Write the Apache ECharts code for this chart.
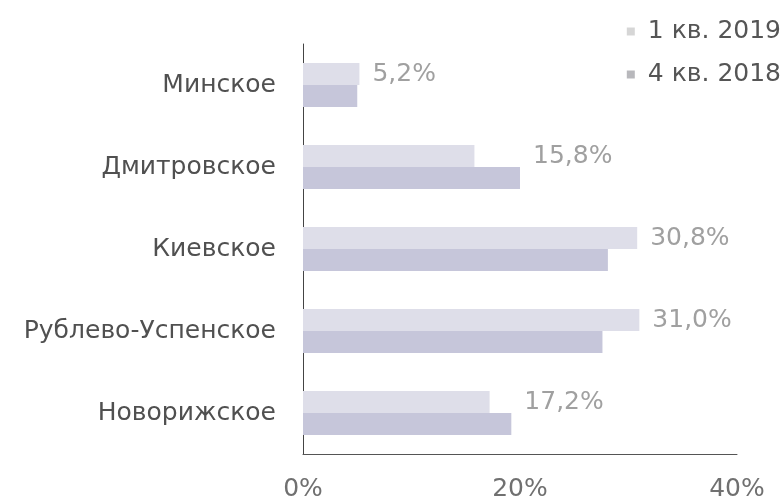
<!DOCTYPE html>
<html>
<head>
<meta charset="utf-8">
<script src="https://cdn.jsdelivr.net/npm/echarts@6/dist/echarts.min.js"></script>
<style>
  html, body { margin: 0; padding: 0; background: #ffffff; }
  #chart { width: 783px; height: 497px; }
</style>
</head>
<body>
<div id="chart"></div>
<script>
// Доля вакантных площадей по направлениям, %
const categories = ['Минское', 'Дмитровское', 'Киевское', 'Рублево-Успенское', 'Новорижское'];
const q1_2019 = [5.2, 15.8, 30.8, 31.0, 17.2];
const q4_2018 = [5.0, 20.0, 28.1, 27.6, 19.2];
const seriesNames = ['1 кв. 2019', '4 кв. 2018'];
const xTicks = [0, 20, 40];

const FONT = 'DejaVu Sans';
const colorQ1 = '#dedee9';
const colorQ4 = '#c6c6da';

// transparent extension so the value label sits past the longer bar of each pair
const labelPad = q1_2019.map((v, i) => Math.max(q4_2018[i] - v, 0));

const chart = echarts.init(document.getElementById('chart'), null, { renderer: 'canvas' });

chart.setOption({
  animation: false,
  backgroundColor: '#ffffff',
  textStyle: { fontFamily: FONT },
  legend: {
    orient: 'vertical',
    right: -3,
    top: 14,
    itemWidth: 8,
    itemHeight: 8,
    itemGap: 18,
    icon: 'rect',
    selectedMode: false,
    textStyle: { fontFamily: FONT, fontSize: 25, color: '#555555', padding: [0, 0, 0, 8] },
    data: [
      { name: seriesNames[0], itemStyle: { color: '#d6d6d6' } },
      { name: seriesNames[1], itemStyle: { color: '#b8b8bc' } }
    ]
  },
  grid: { left: 303, right: 46, top: 44, bottom: 43, containLabel: false, outerBoundsMode: 'none' },
  xAxis: {
    type: 'value',
    min: xTicks[0],
    max: xTicks[xTicks.length - 1],
    interval: xTicks[1] - xTicks[0],
    axisLine: { show: true, lineStyle: { color: '#555555', width: 1 } },
    axisTick: { show: false },
    splitLine: { show: false },
    axisLabel: {
      margin: 23,
      fontFamily: FONT,
      fontSize: 25,
      color: '#707070',
      formatter: v => v + '%'
    }
  },
  yAxis: {
    type: 'category',
    inverse: true,
    data: categories,
    axisLine: { show: true, lineStyle: { color: '#444444', width: 1 } },
    axisTick: { show: false },
    splitLine: { show: false },
    axisLabel: { margin: 27, fontFamily: FONT, fontSize: 25, color: '#505050' }
  },
  series: [
    {
      name: seriesNames[0],
      type: 'bar',
      stack: 'q1',
      data: q1_2019,
      barWidth: 22,
      barGap: '0%',
      itemStyle: { color: colorQ1 }
    },
    {
      name: 'label',
      type: 'bar',
      stack: 'q1',
      data: labelPad,
      barWidth: 22,
      itemStyle: { color: 'rgba(0,0,0,0)' },
      label: {
        show: true,
        position: 'right',
        distance: 13,
        fontFamily: FONT,
        fontSize: 25,
        color: '#a0a0a0',
        formatter: p => q1_2019[p.dataIndex].toFixed(1).replace('.', ',') + '%'
      },
      emphasis: { disabled: true }
    },
    {
      name: seriesNames[1],
      type: 'bar',
      data: q4_2018,
      barWidth: 22,
      barGap: '0%',
      itemStyle: { color: colorQ4 }
    }
  ]
});
</script>
</body>
</html>
